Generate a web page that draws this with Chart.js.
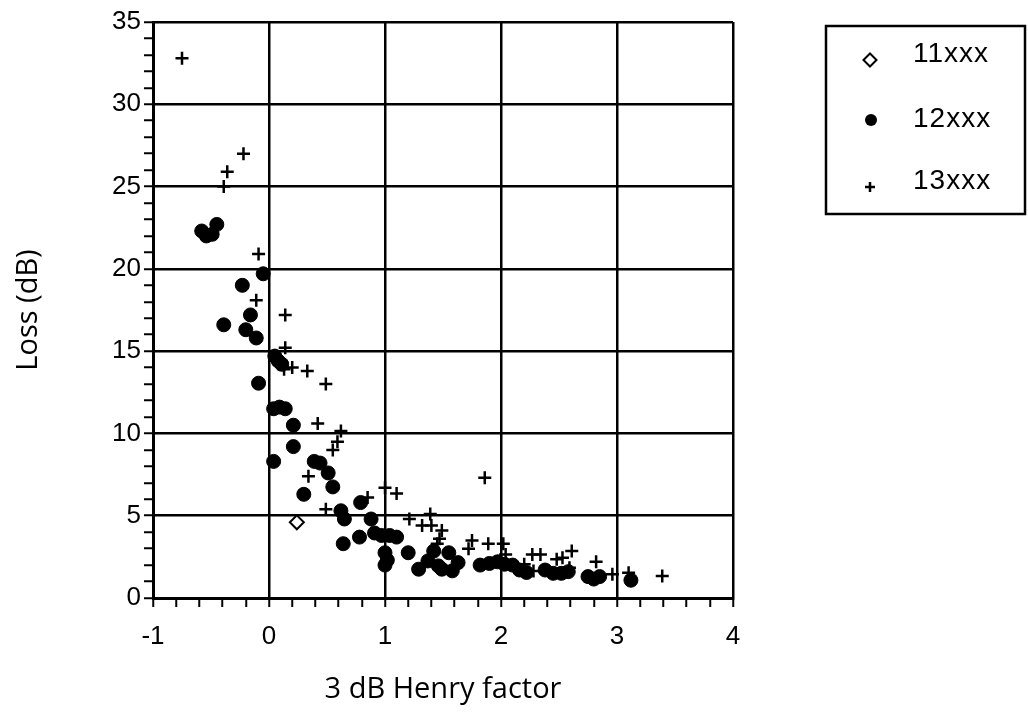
<!DOCTYPE html>
<html>
<head>
<meta charset="utf-8">
<script src="https://cdn.jsdelivr.net/npm/chart.js@4.4.1/dist/chart.umd.min.js"></script>
<style>
  html, body { margin: 0; padding: 0; background: #fff; }
  canvas { display: block; }
</style>
</head>
<body>
<canvas id="chart" width="1028" height="713"></canvas>
<script>
// Series labels
const seriesNames = ['11xxx', '12xxx', '13xxx'];

// 11xxx samples: 3 dB Henry factor vs. loss (dB)
const henry11 = [0.24];
const loss11  = [4.6];

// 12xxx samples
const henry12 = [-0.58, -0.54, -0.49, -0.45, -0.05, -0.23, -0.16, -0.39, -0.20, -0.11,
                 0.05, 0.08, 0.11, -0.09, 0.04, 0.09, 0.14, 0.21, 0.21, 0.04,
                 0.39, 0.44, 0.51, 0.55, 0.30, 0.79, 0.62, 0.65, 0.88, 0.64,
                 0.78, 0.91, 0.97, 1.04, 1.10, 1.00, 1.02, 1.00, 1.20, 1.29,
                 1.37, 1.42, 1.46, 1.49, 1.55, 1.58, 1.63, 1.82, 1.90, 1.97,
                 2.03, 2.10, 2.16, 2.22, 2.38, 2.45, 2.52, 2.58, 2.75, 2.80,
                 2.85, 3.12];
const loss12  = [22.3, 22.0, 22.1, 22.7, 19.7, 19.0, 17.2, 16.6, 16.3, 15.8,
                 14.7, 14.4, 14.2, 13.05, 11.5, 11.6, 11.5, 10.5, 9.2, 8.3,
                 8.3, 8.2, 7.6, 6.75, 6.3, 5.8, 5.3, 4.8, 4.8, 3.3,
                 3.7, 3.95, 3.8, 3.8, 3.7, 2.75, 2.3, 2.0, 2.75, 1.75,
                 2.25, 2.85, 1.95, 1.75, 2.75, 1.65, 2.15, 2.0, 2.1, 2.2,
                 2.05, 2.0, 1.7, 1.55, 1.7, 1.5, 1.5, 1.6, 1.3, 1.15,
                 1.3, 1.08];

// 13xxx samples
const henry13 = [-0.75, -0.22, -0.36, -0.39, -0.09, -0.11, 0.14, 0.14, 0.13, 0.20,
                 0.33, 0.49, 0.42, 0.62, 0.59, 0.55, 0.34, 1.00, 1.10, 0.85,
                 0.49, 1.86, 1.21, 1.32, 1.39, 1.40, 1.49, 1.47, 1.45, 1.75,
                 1.72, 1.89, 2.02, 2.04, 2.20, 2.27, 2.34, 2.28, 2.48, 2.53,
                 2.61, 2.59, 2.82, 2.96, 3.10, 3.39];
const loss13  = [32.8, 27.0, 25.9, 25.0, 20.9, 18.1, 17.2, 15.2, 13.9, 14.0,
                 13.8, 13.0, 10.6, 10.15, 9.5, 9.0, 7.4, 6.7, 6.35, 6.1,
                 5.4, 7.3, 4.8, 4.4, 5.1, 4.4, 4.1, 3.6, 3.3, 3.5,
                 3.0, 3.3, 3.3, 2.65, 2.05, 2.65, 2.65, 1.64, 2.35, 2.45,
                 2.86, 1.84, 2.2, 1.44, 1.54, 1.34];

// Axis ranges and label steps
const xRange = [-1, 4];
const yRange = [0, 35];
const xMajorStep = 1, xMinorStep = 0.2;
const yMajorStep = 5, yMinorStep = 1;

const pairs = (xs, ys) => xs.map((x, i) => ({ x, y: ys[i] }));
const isMultiple = (v, step) => Math.abs(v / step - Math.round(v / step)) < 1e-6;

const tickFont = { family: '"Liberation Sans", Arial, sans-serif', size: 26 };
const titleFont = { family: '"Open Sans", "Lato", sans-serif', size: 29 };

// Boxed legend on the right of the plot
const boxLegend = {
  id: 'boxLegend',
  afterDraw(chart) {
    const ctx = chart.ctx;
    ctx.save();
    ctx.strokeStyle = '#000';
    ctx.lineWidth = 2.5;
    ctx.strokeRect(826, 26, 199, 188);
    const textRows = [54, 119, 181];
    const markRows = [60, 120, 187];
    ctx.font = '28px "Liberation Sans", Arial, sans-serif';
    ctx.textBaseline = 'middle';
    if ('letterSpacing' in ctx) ctx.letterSpacing = '1px';
    seriesNames.forEach((name, i) => {
      const sx = 870, sy = markRows[i];
      ctx.beginPath();
      if (i === 0) {
        ctx.lineWidth = 2;
        ctx.moveTo(sx - 6.5, sy); ctx.lineTo(sx, sy - 6.5);
        ctx.lineTo(sx + 6.5, sy); ctx.lineTo(sx, sy + 6.5); ctx.closePath();
        ctx.fillStyle = '#fff'; ctx.fill(); ctx.stroke();
      } else if (i === 1) {
        ctx.arc(sx + 1, sy, 6, 0, Math.PI * 2);
        ctx.fillStyle = '#000'; ctx.fill();
      } else {
        ctx.lineWidth = 2.5;
        ctx.moveTo(sx - 5, sy); ctx.lineTo(sx + 5, sy);
        ctx.moveTo(sx, sy - 5); ctx.lineTo(sx, sy + 5);
        ctx.stroke();
      }
      ctx.fillStyle = '#000';
      ctx.fillText(name, 913, textRows[i]);
    });
    ctx.restore();
  }
};

new Chart(document.getElementById('chart'), {
  type: 'scatter',
  data: {
    datasets: [
      {
        label: seriesNames[0],
        data: pairs(henry11, loss11),
        pointStyle: 'rectRot',
        pointRadius: 7,
        backgroundColor: '#fff',
        borderColor: '#000',
        borderWidth: 2
      },
      {
        label: seriesNames[1],
        data: pairs(henry12, loss12),
        pointStyle: 'circle',
        pointRadius: 7,
        backgroundColor: '#000',
        borderColor: '#000',
        borderWidth: 1
      },
      {
        label: seriesNames[2],
        data: pairs(henry13, loss13),
        pointStyle: 'cross',
        pointRadius: 6.5,
        backgroundColor: '#000',
        borderColor: '#000',
        borderWidth: 2.5
      }
    ]
  },
  options: {
    responsive: false,
    animation: false,
    events: [],
    layout: { padding: { top: 22, right: 295, bottom: 0, left: 0 } },
    plugins: {
      legend: { display: false },
      tooltip: { enabled: false }
    },
    scales: {
      x: {
        type: 'linear',
        min: xRange[0],
        max: xRange[1],
        afterFit: (s) => { s.height = 115; },
        border: { display: true, color: '#000', width: 3 },
        grid: {
          color: (c) => isMultiple(c.tick.value, xMajorStep) ? '#000' : 'rgba(0,0,0,0)',
          lineWidth: 2.5,
          tickColor: '#000',
          tickWidth: 2,
          tickLength: 9
        },
        ticks: {
          stepSize: xMinorStep,
          autoSkip: false,
          maxRotation: 0,
          color: '#000',
          font: tickFont,
          padding: 14,
          callback: (v) => isMultiple(v, xMajorStep) ? String(Math.round(v)) : ''
        },
        title: {
          display: true,
          text: '3 dB Henry factor',
          color: '#000',
          font: titleFont,
          padding: { top: 0, bottom: 6 }
        }
      },
      y: {
        type: 'linear',
        min: yRange[0],
        max: yRange[1],
        afterFit: (s) => { s.width = 153; },
        border: { display: true, color: '#000', width: 3 },
        grid: {
          color: (c) => isMultiple(c.tick.value, yMajorStep) ? '#000' : 'rgba(0,0,0,0)',
          lineWidth: 2.5,
          tickColor: '#000',
          tickWidth: 2,
          tickLength: 9
        },
        ticks: {
          stepSize: yMinorStep,
          autoSkip: false,
          color: '#000',
          font: tickFont,
          padding: 3,
          callback: (v) => isMultiple(v, yMajorStep) ? String(Math.round(v)) : ''
        },
        title: {
          display: true,
          text: 'Loss (dB)',
          color: '#000',
          font: titleFont,
          padding: { top: 11, bottom: 0 }
        }
      }
    }
  },
  plugins: [boxLegend]
});
</script>
</body>
</html>
